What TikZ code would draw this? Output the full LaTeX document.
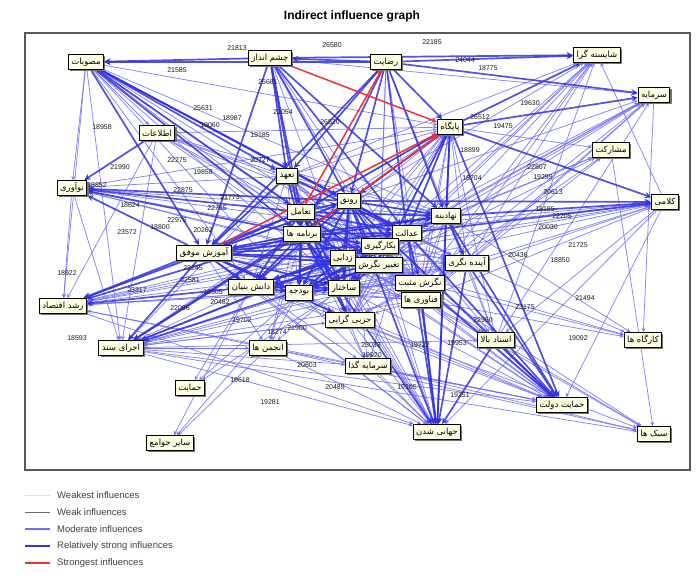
\documentclass[tikz,border=0pt]{standalone}
\usepackage{fontspec}
\setmainfont{Liberation Sans}
\newfontfamily\persianfont[Script=Arabic]{DejaVu Sans}
\TeXXeTstate=1
\usetikzlibrary{arrows,shadows,backgrounds}
\definecolor{cream}{RGB}{255,255,228}
\definecolor{modblue}{RGB}{110,110,250}
\definecolor{relstrong}{RGB}{50,50,225}
\definecolor{strongest}{RGB}{240,50,50}
\newcommand{\fatext}[1]{{\persianfont\beginR #1\endR}}
\tikzstyle{factor} = [rectangle, draw=black, line width=1pt, fill=cream, inner xsep=3pt, inner ysep=2pt, minimum height=15pt, font=\fontsize{8.5}{10}\selectfont, drop shadow={shadow xshift=1.6pt, shadow yshift=-1.6pt, fill=black!55, opacity=1}]
\tikzstyle{num} = [font=\fontsize{7}{8}\selectfont, text=black!90, inner sep=0pt]
\tikzstyle{modedge} = [draw=modblue, line width=0.75pt, draw opacity=0.85, ->, >=stealth]
\tikzstyle{strongedge} = [draw=relstrong, line width=1.7pt, draw opacity=0.85, ->, >=stealth]
\tikzstyle{redge} = [draw=strongest, line width=1.5pt, ->, >=stealth]
\tikzstyle{legtext} = [anchor=west, inner sep=0pt, font=\fontsize{9.5}{11}\selectfont, text=black!75]

\begin{document}
\begin{tikzpicture}[x=1pt, y=-1pt]
\useasboundingbox (0,0) rectangle (700,583);

% Title and frame
\node[font=\bfseries\fontsize{12}{14}\selectfont] (title) at (352,16) {Indirect influence graph};
\draw[line width=1.2pt, black!65] (25,33) rectangle (690,470);

% Edge values
\foreach \v/\x/\y [count=\i] in {21813/237/48, 26580/332/45, 22185/432/42, 21585/177/70, 24044/465/60, 18775/488/68,
  19630/530/103, 26512/480/117, 19475/503/126, 25631/203/108, 18987/232/118, 19060/210/125, 21054/283/112,
  25681/268/82, 26520/330/122, 18958/102/127, 21990/120/167, 22275/177/160, 19858/203/172, 22875/183/190,
  18852/97/185, 18624/130/205, 23572/127/232, 18800/160/227, 22976/177/220, 20262/203/230, 21773/230/197,
  22795/217/208, 19185/260/135, 20727/260/160, 18899/470/150, 19299/543/177, 20613/553/192, 18185/545/209,
  22205/562/216, 20030/548/227, 21725/578/245, 18704/472/178, 22807/537/167, 18922/67/273, 23317/137/290,
  22581/190/280, 22245/193/268, 18593/77/338, 20436/518/255, 18850/560/260, 22096/180/308, 18605/213/292,
  20482/220/302, 19702/242/320, 18274/277/332, 21900/297/328, 21494/585/298, 23175/525/307, 19092/578/338,
  22950/483/320, 19722/420/345, 19953/457/343, 20803/307/365, 19618/240/380, 20489/335/387, 19281/270/402,
  19105/407/387, 19251/460/395, 23033/371/345, 19920/372/355}
  \node[num] (val\i) at (\x,\y) {\v};

% Factors
\node (mosavabat) [factor] at (86,62) {\fatext{مصوبات}};
\node (cheshmandaz) [factor] at (270,58) {\fatext{چشم انداز}};
\node (rezayat) [factor] at (386,62) {\fatext{رضایت}};
\node (shayeste) [factor] at (597,55) {\fatext{شایسته گرا}};
\node (sarmaye) [factor] at (654,95) {\fatext{سرمایه}};
\node (etelaat) [factor] at (157,133) {\fatext{اطلاعات}};
\node (paygah) [factor] at (450,127) {\fatext{پایگاه}};
\node (mosharekat) [factor] at (611,150) {\fatext{مشارکت}};
\node (tahod) [factor] at (287,176) {\fatext{تعهد}};
\node (noavari) [factor] at (72,188) {\fatext{نوآوری}};
\node (ronagh) [factor] at (349,201) {\fatext{رونق}};
\node (taamol) [factor] at (301,212) {\fatext{تعامل}};
\node (barname) [factor] at (302,234) {\fatext{برنامه ها}};
\node (amuzesh) [factor] at (204,253) {\fatext{آموزش موفق}};
\node (nahadine) [factor] at (446,216) {\fatext{نهادینه}};
\node (edalat) [factor] at (407,233) {\fatext{عدالت}};
\node (kalami) [factor] at (665,202) {\fatext{کلامی}};
\node (bekargiri) [factor] at (380,246) {\fatext{بکارگیری}};
\node (zodayi) [factor] at (343,258) {\fatext{زدایی}};
\node (taghyir) [factor] at (379,265) {\fatext{تغییر نگرش}};
\node (ayande) [factor] at (467,263) {\fatext{آینده نگری}};
\node (negaresh) [factor] at (420,283) {\fatext{نگرش مثبت}};
\node (fanavari) [factor] at (421,300) {\fatext{فناوری ها}};
\node (sakhtar) [factor] at (344,288) {\fatext{ساختار}};
\node (budje) [factor] at (299,293) {\fatext{بودجه}};
\node (danesh) [factor] at (251,287) {\fatext{دانش بنیان}};
\node (roshd) [factor] at (63,306) {\fatext{رشد اقتصاد}};
\node (ejra) [factor] at (121,348) {\fatext{اجرای سند}};
\node (anjoman) [factor] at (268,348) {\fatext{انجمن ها}};
\node (hezbi) [factor] at (350,320) {\fatext{حزبی گرایی}};
\node (sarmayegozar) [factor] at (368,366) {\fatext{سرمایه گذا}};
\node (asnad) [factor] at (496,340) {\fatext{اسناد بالا}};
\node (kargah) [factor] at (643,340) {\fatext{کارگاه ها}};
\node (hemayat) [factor] at (190,388) {\fatext{حمایت}};
\node (sayer) [factor] at (170,443) {\fatext{سایر جوامع}};
\node (jahani) [factor] at (437,432) {\fatext{جهانی شدن}};
\node (hemayatdolat) [factor] at (562,405) {\fatext{حمایت دولت}};
\node (sabk) [factor] at (654,434) {\fatext{سبک ها}};

% Influences
\begin{pgfonlayer}{background}
% dense mesh among the central factors
\foreach \a [count=\i] in {tahod, ronagh, taamol, barname, amuzesh, nahadine, edalat, bekargiri, zodayi, taghyir, ayande, negaresh, fanavari, sakhtar, budje, danesh, hezbi, paygah}
  \foreach \b [count=\j] in {tahod, ronagh, taamol, barname, amuzesh, nahadine, edalat, bekargiri, zodayi, taghyir, ayande, negaresh, fanavari, sakhtar, budje, danesh, hezbi, paygah}
    {\ifnum\j>\i \draw[modedge] (\a) -- (\b); \fi}
\foreach \a/\b in {mosavabat/noavari, mosavabat/roshd, mosavabat/ejra, mosavabat/etelaat, mosavabat/ayande, mosavabat/nahadine, mosavabat/paygah,
  mosavabat/danesh, mosavabat/budje, mosavabat/taghyir, mosavabat/bekargiri, mosavabat/zodayi, mosavabat/sakhtar,
  etelaat/roshd, etelaat/ejra, etelaat/taamol, etelaat/barname, etelaat/ronagh, etelaat/paygah, etelaat/nahadine, etelaat/taghyir,
  noavari/roshd, noavari/ejra, edalat/noavari, nahadine/noavari, taghyir/noavari, paygah/noavari, bekargiri/noavari, tahod/noavari, zodayi/noavari,
  sakhtar/roshd, budje/roshd, ronagh/roshd, edalat/roshd, taghyir/roshd, nahadine/roshd, zodayi/roshd, anjoman/roshd, bekargiri/roshd, negaresh/roshd,
  danesh/ejra, budje/ejra, sakhtar/ejra, anjoman/ejra, hezbi/ejra, negaresh/ejra, fanavari/ejra, zodayi/ejra, bekargiri/ejra, tahod/ejra, nahadine/ejra, ayande/ejra, paygah/ejra,
  nahadine/shayeste, edalat/shayeste, ronagh/shayeste, ayande/shayeste, taghyir/shayeste, asnad/shayeste, negaresh/shayeste, tahod/shayeste, kalami/shayeste, bekargiri/shayeste, fanavari/shayeste,
  nahadine/sarmaye, edalat/sarmaye, ayande/sarmaye, taghyir/sarmaye, ronagh/sarmaye, negaresh/sarmaye, asnad/sarmaye, fanavari/sarmaye, bekargiri/sarmaye, cheshmandaz/sarmaye, zodayi/sarmaye,
  nahadine/mosharekat, paygah/mosharekat, edalat/mosharekat, taghyir/mosharekat, ayande/mosharekat, negaresh/mosharekat,
  ayande/kalami, negaresh/kalami, taghyir/kalami, bekargiri/kalami, fanavari/kalami, barname/kalami, amuzesh/kalami, kalami/jahani, kalami/hemayatdolat, kalami/asnad, zodayi/kalami,
  ayande/kargah, negaresh/kargah, taghyir/kargah, fanavari/kargah, nahadine/kargah, sarmaye/kargah,
  ejra/sabk, sarmayegozar/sabk, hezbi/sabk, fanavari/sabk, asnad/sabk, negaresh/sabk, anjoman/sabk, mosharekat/sabk,
  hezbi/jahani, sarmayegozar/jahani, anjoman/jahani, budje/jahani, sakhtar/jahani, danesh/jahani, taghyir/jahani, zodayi/jahani, bekargiri/jahani, tahod/jahani, ejra/jahani, amuzesh/jahani, roshd/jahani, taamol/jahani,
  fanavari/hemayatdolat, taghyir/hemayatdolat, hezbi/hemayatdolat, sarmayegozar/hemayatdolat, sakhtar/hemayatdolat, budje/hemayatdolat, bekargiri/hemayatdolat, zodayi/hemayatdolat, ejra/hemayatdolat, anjoman/hemayatdolat, danesh/hemayatdolat, roshd/hemayatdolat, barname/hemayatdolat,
  ronagh/asnad, nahadine/asnad, paygah/asnad, edalat/asnad, ayande/asnad, ejra/asnad, barname/asnad, taamol/asnad,
  danesh/hemayat, budje/hemayat, sakhtar/hemayat, danesh/sayer, budje/sayer, anjoman/sayer,
  amuzesh/anjoman, barname/anjoman, ronagh/anjoman, edalat/anjoman, ejra/anjoman, taamol/anjoman,
  amuzesh/hezbi, barname/hezbi, ronagh/hezbi, ejra/hezbi, taamol/hezbi,
  barname/sarmayegozar, edalat/sarmayegozar, ronagh/sarmayegozar, amuzesh/sarmayegozar, ejra/sarmayegozar, taamol/sarmayegozar,
  etelaat/tahod, etelaat/edalat, cheshmandaz/negaresh, rezayat/ayande, rezayat/negaresh, rezayat/taghyir, rezayat/bekargiri, cheshmandaz/zodayi, cheshmandaz/bekargiri}
  \draw[modedge] (\a) -- (\b);
% thick core among the central factors
\foreach \a [count=\i] in {taamol, barname, amuzesh, ronagh, edalat, bekargiri, zodayi, taghyir, danesh, budje, sakhtar}
  \foreach \b [count=\j] in {taamol, barname, amuzesh, ronagh, edalat, bekargiri, zodayi, taghyir, danesh, budje, sakhtar}
    {\ifnum\j>\i \draw[strongedge] (\a) -- (\b); \fi}
\foreach \a/\b in {cheshmandaz/mosavabat, rezayat/mosavabat, rezayat/cheshmandaz, rezayat/shayeste, cheshmandaz/shayeste, rezayat/sarmaye,
  paygah/shayeste, paygah/sarmaye, paygah/kalami, nahadine/kalami, edalat/kalami, ronagh/kalami, etelaat/noavari,
  mosavabat/taamol, mosavabat/barname, mosavabat/amuzesh, mosavabat/tahod, mosavabat/ronagh, mosavabat/edalat,
  cheshmandaz/tahod, cheshmandaz/taamol, cheshmandaz/barname, cheshmandaz/ronagh, cheshmandaz/nahadine, cheshmandaz/edalat, cheshmandaz/amuzesh,
  rezayat/tahod, rezayat/barname, rezayat/ronagh, rezayat/edalat, rezayat/nahadine, rezayat/amuzesh, rezayat/paygah,
  paygah/taamol, paygah/ronagh, paygah/edalat, paygah/nahadine, paygah/taghyir,
  barname/noavari, taamol/noavari, amuzesh/noavari, ronagh/noavari,
  amuzesh/roshd, barname/roshd, danesh/roshd, taamol/roshd,
  amuzesh/ejra, barname/ejra, edalat/ejra, ronagh/ejra, taghyir/ejra,
  paygah/jahani, nahadine/jahani, edalat/jahani, ayande/jahani, negaresh/jahani, fanavari/jahani, asnad/jahani, barname/jahani, ronagh/jahani,
  paygah/hemayatdolat, nahadine/hemayatdolat, ayande/hemayatdolat, edalat/hemayatdolat, negaresh/hemayatdolat, asnad/hemayatdolat, ronagh/hemayatdolat,
  tahod/barname, tahod/edalat, ronagh/nahadine, taamol/nahadine, barname/nahadine, amuzesh/nahadine, tahod/amuzesh,
  nahadine/edalat, nahadine/ayande, edalat/negaresh, barname/hezbi, amuzesh/hezbi, taamol/hezbi}
  \draw[strongedge] (\a) -- (\b);
\foreach \a/\b in {cheshmandaz/paygah, amuzesh/paygah, barname/paygah, taamol/rezayat}
  \draw[redge] (\a) -- (\b);
\end{pgfonlayer}

% Legend
\coordinate (legA1) at (25,495); \coordinate (legB1) at (50,495);
\coordinate (legA2) at (25,512); \coordinate (legB2) at (50,512);
\coordinate (legA3) at (25,529); \coordinate (legB3) at (50,529);
\coordinate (legA4) at (25,546); \coordinate (legB4) at (50,546);
\coordinate (legA5) at (25,563); \coordinate (legB5) at (50,563);
\draw[black!12, line width=0.8pt] (legA1) -- (legB1);
\draw[black!60, line width=0.8pt] (legA2) -- (legB2);
\draw[draw=modblue, line width=1.2pt] (legA3) -- (legB3);
\draw[relstrong, line width=1.6pt] (legA4) -- (legB4);
\draw[strongest, line width=1.6pt] (legA5) -- (legB5);
\node[legtext] (leg1) at (57,495) {Weakest influences};
\node[legtext] (leg2) at (57,512) {Weak influences};
\node[legtext] (leg3) at (57,529) {Moderate influences};
\node[legtext] (leg4) at (57,546) {Relatively strong influences};
\node[legtext] (leg5) at (57,563) {Strongest influences};
\end{tikzpicture}
\end{document}
